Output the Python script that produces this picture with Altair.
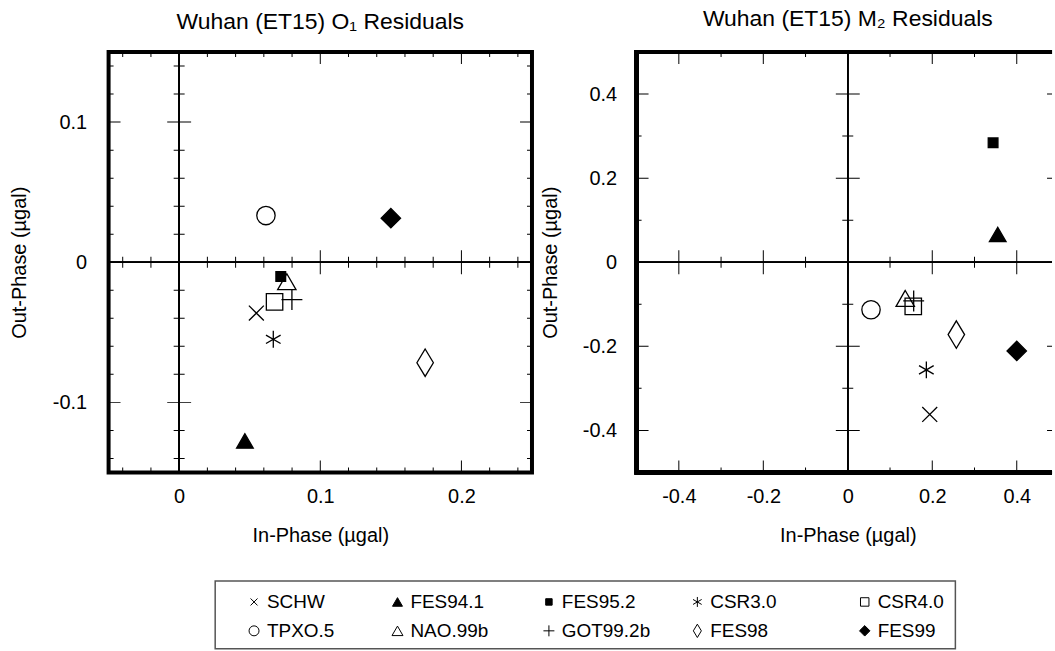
import altair as alt
import pandas as pd

FONT = "Liberation Sans"

# ---------------- data ----------------
models = ["SCHW", "FES94.1", "FES95.2", "CSR3.0", "CSR4.0",
          "TPXO.5", "NAO.99b", "GOT99.2b", "FES98", "FES99"]

# O1 residuals (in-phase, out-phase) in microgal
o1_in = [0.0547, 0.0466, 0.0720, 0.0667, 0.0676, 0.0615, 0.0763, 0.0799, 0.1743, 0.1500]
o1_out = [-0.0363, -0.1275, -0.0101, -0.0550, -0.0283, 0.0333, -0.0139, -0.0267, -0.0717, 0.0314]

# M2 residuals
m2_in = [0.194, 0.355, 0.344, 0.186, 0.155, 0.055, 0.136, 0.156, 0.257, 0.400]
m2_out = [-0.362, 0.066, 0.284, -0.256, -0.105, -0.113, -0.086, -0.092, -0.172, -0.211]

# axis structure
o1_x_labels = [0.0, 0.1, 0.2]
o1_y_labels = [-0.1, 0.0, 0.1]
o1_x_major = [0.0, 0.1, 0.2]
o1_x_minor = [-0.04, -0.02, 0.02, 0.04, 0.06, 0.08, 0.12, 0.14, 0.16, 0.18, 0.22, 0.24]
o1_y_major = [-0.1, 0.0, 0.1]
o1_y_minor = [-0.14, -0.12, -0.08, -0.06, -0.04, -0.02, 0.02, 0.04, 0.06, 0.08, 0.12, 0.14]

m2_labels = [-0.4, -0.2, 0.0, 0.2, 0.4]
m2_major = [-0.4, -0.2, 0.0, 0.2, 0.4]
m2_minor = [-0.3, -0.1, 0.1, 0.3]

# ---------------- marker styles ----------------
X_PATH = "M-1,-1L1,1M-1,1L1,-1"
PLUS_PATH = "M-1,0L1,0M0,-1L0,1"
AST_PATH = "M0,-1L0,1M-0.866,-0.5L0.866,0.5M-0.866,0.5L0.866,-0.5"
DIAM_TALL = "M0,-1L0.6,0L0,1L-0.6,0Z"

style = {
    "SCHW":     dict(shape=X_PATH,        fill="transparent", size=225, lsize=49),
    "FES94.1":  dict(shape="triangle-up", fill="black",       size=280, lsize=100),
    "FES95.2":  dict(shape="square",      fill="black",       size=95,  lsize=42),
    "CSR3.0":   dict(shape=AST_PATH,      fill="transparent", size=289, lsize=100),
    "CSR4.0":   dict(shape="square",      fill="transparent", size=272, lsize=72),
    "TPXO.5":   dict(shape="circle",      fill="transparent", size=340, lsize=100),
    "NAO.99b":  dict(shape="triangle-up", fill="transparent", size=340, lsize=121),
    "GOT99.2b": dict(shape=PLUS_PATH,     fill="transparent", size=441, lsize=121),
    "FES98":    dict(shape=DIAM_TALL,     fill="transparent", size=760, lsize=180),
    "FES99":    dict(shape="diamond",     fill="black",       size=380, lsize=110),
}

H = 422
EDGE_MAJOR, EDGE_MINOR = 24, 10      # clipped to half -> inward 12 / 5 px
CROSS_MAJOR, CROSS_MINOR = 24, 11
NEG_LABEL = "datum.value < 0 ? datum.value + '\u00a0\u00a0' : datum.value + ''"


def tick_layers(vals, xs, ys, orient_axis, size, edges):
    df = pd.DataFrame({"v": vals})
    layers = []
    for pos in edges:
        if orient_axis == "x":
            enc = dict(x=alt.X("v:Q", scale=xs),
                       y=alt.Y(datum=pos, type="quantitative", scale=ys))
            m = alt.Chart(df).mark_tick(orient="vertical", size=size, thickness=1,
                                        color="black", clip=True, opacity=1)
        else:
            enc = dict(y=alt.Y("v:Q", scale=ys),
                       x=alt.X(datum=pos, type="quantitative", scale=xs))
            m = alt.Chart(df).mark_tick(orient="horizontal", size=size, thickness=1,
                                        color="black", clip=True, opacity=1)
        layers.append(m.encode(**enc))
    return layers


def panel(title, xin, yout, frame_x, xdom, ydom, width, xlabels, ylabels,
          xmaj, xmin, ymaj, ymin, ylabpad, ytitlepad,
          full_frame, title_dx, xtitle_x):
    df = pd.DataFrame({
        "model": models, "x": xin, "y": yout,
        "shape": [style[m]["shape"] for m in models],
        "fill": [style[m]["fill"] for m in models],
        "size": [style[m]["size"] for m in models],
    })
    xs = alt.Scale(domain=xdom, nice=False, zero=False)
    ys = alt.Scale(domain=ydom, nice=False, zero=False)

    xaxis = dict(values=xlabels, labelExpr="datum.value + ''",
                 title="In-Phase (µgal)", labelPadding=14, titlePadding=19)
    if xtitle_x is not None:
        xaxis["titleX"] = xtitle_x
    pts = alt.Chart(df).mark_point(filled=True, opacity=1, stroke="black",
                                   strokeWidth=1.3).encode(
        x=alt.X("x:Q", scale=xs, axis=alt.Axis(**xaxis)),
        y=alt.Y("y:Q", scale=ys,
                axis=alt.Axis(values=ylabels, labelExpr=NEG_LABEL,
                              title="Out-Phase (µgal)", labelPadding=ylabpad,
                              titlePadding=ytitlepad)),
        shape=alt.Shape("shape:N", scale=None),
        fill=alt.Fill("fill:N", scale=None),
        size=alt.Size("size:Q", scale=None),
    )

    zero_v = alt.Chart(df).mark_rule(color="black", strokeWidth=1).encode(
        x=alt.X(datum=0, type="quantitative", scale=xs))
    zero_h = alt.Chart(df).mark_rule(color="black", strokeWidth=1).encode(
        y=alt.Y(datum=0, type="quantitative", scale=ys))

    layers = [zero_v, zero_h]
    layers += tick_layers(xmaj, xs, ys, "x", EDGE_MAJOR, [ydom[0], ydom[1]])
    layers += tick_layers(xmin, xs, ys, "x", EDGE_MINOR, [ydom[0], ydom[1]])
    layers += tick_layers(ymaj, xs, ys, "y", EDGE_MAJOR, frame_x)
    layers += tick_layers(ymin, xs, ys, "y", EDGE_MINOR, frame_x)
    layers += tick_layers(xmaj, xs, ys, "x", CROSS_MAJOR, [0])
    layers += tick_layers(xmin, xs, ys, "x", CROSS_MINOR, [0])
    layers += tick_layers(ymaj, xs, ys, "y", CROSS_MAJOR, [0])
    layers += tick_layers(ymin, xs, ys, "y", CROSS_MINOR, [0])

    if full_frame:
        view = alt.ViewBackground(stroke="black", strokeWidth=4)
    else:
        # frame whose right side lies beyond the visible page edge
        view = alt.ViewBackground(stroke="transparent")
        layers.append(alt.Chart(df).mark_rule(color="black", strokeWidth=4,
                                              strokeCap="square").encode(
            x=alt.X(datum=frame_x[0], type="quantitative", scale=xs)))
        for yv in ydom:
            layers.append(alt.Chart(df).mark_rule(color="black", strokeWidth=4).encode(
                y=alt.Y(datum=yv, type="quantitative", scale=ys)))
    layers.append(pts)

    return alt.layer(*layers).properties(
        width=width, height=H,
        title=alt.TitleParams(title, fontSize=23, font=FONT, fontWeight="normal",
                              anchor="middle", offset=18, color="black", dx=title_dx),
        view=view,
    )


left = panel("Wuhan (ET15) O\u2081 Residuals", o1_in, o1_out,
             [-0.05, 0.25], [-0.05, 0.25], [-0.15, 0.15], 425,
             o1_x_labels, o1_y_labels, o1_x_major, o1_x_minor, o1_y_major, o1_y_minor,
             22, 22.5, True, 0, None)

# right panel: 424 px per unit; the page cuts it at its right edge
M2_W = 417
right = panel("Wuhan (ET15) M\u2082 Residuals", m2_in, m2_out,
              [-0.5, 0.5], [-0.5, -0.5 + M2_W / 424.0], [-0.5, 0.5], M2_W,
              m2_labels, m2_labels, m2_major, m2_minor, m2_major, m2_minor,
              20, 22, False, 3.5, 212)

top = alt.hconcat(left, right, spacing=105, bounds="flush")

# ---------------- legend box ----------------
leg_df = pd.DataFrame({
    "model": models,
    "col": [i % 5 for i in range(len(models))],
    "row": [i // 5 for i in range(len(models))],
    "shape": [style[m]["shape"] for m in models],
    "fill": [style[m]["fill"] for m in models],
    "lsize": [style[m]["lsize"] for m in models],
})
lx = alt.Scale(domain=[0, 1, 2, 3, 4], range=[39, 183, 335, 484, 652])
ly = alt.Scale(domain=[0, 1], range=[21, 50])
leg_pts = alt.Chart(leg_df).mark_point(filled=True, opacity=1, stroke="black",
                                       strokeWidth=1).encode(
    x=alt.X("col:Q", scale=lx, axis=None),
    y=alt.Y("row:Q", scale=ly, axis=None),
    shape=alt.Shape("shape:N", scale=None),
    fill=alt.Fill("fill:N", scale=None),
    size=alt.Size("lsize:Q", scale=None),
)
leg_txt = alt.Chart(leg_df).mark_text(align="left", baseline="middle", dx=13,
                                      fontSize=19, font=FONT, color="black").encode(
    x=alt.X("col:Q", scale=lx, axis=None),
    y=alt.Y("row:Q", scale=ly, axis=None),
    text="model:N",
)
legend = alt.layer(leg_pts, leg_txt).properties(
    width=743, height=68,
    view=alt.ViewBackground(stroke="#555555", strokeWidth=1.5),
)

spacer = alt.Chart(pd.DataFrame({"a": [0]})).mark_point(opacity=0).encode(
    x=alt.value(0), y=alt.value(0)
).properties(width=105, height=10, view=alt.ViewBackground(stroke="transparent"))

bottom = alt.hconcat(spacer, legend, spacing=0)

chart = alt.vconcat(top, bottom, spacing=30).properties(
    padding={"left": 8, "top": 6, "right": 0, "bottom": 0},
    background="white",
).configure_axis(
    ticks=False, tickSize=0, domain=False, grid=False,
    labelFont=FONT, labelFontSize=20, labelColor="black",
    titleFont=FONT, titleFontSize=20, titleFontWeight="normal", titleColor="black",
)

chart.save("out.html", embed_options={"renderer": "svg", "actions": False})
